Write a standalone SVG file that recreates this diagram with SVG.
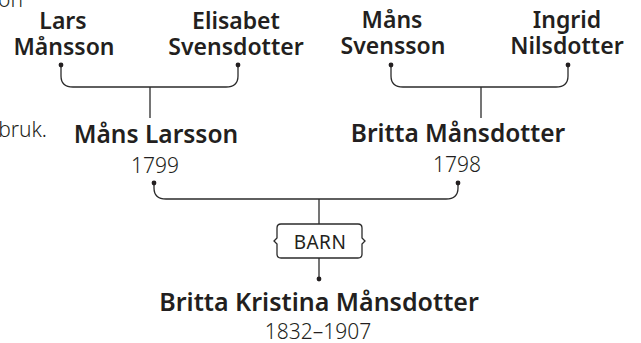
<svg xmlns="http://www.w3.org/2000/svg" width="641" height="343" viewBox="0 0 641 343">
<style>
.bg{fill:#fff}
.name{font-family:"Noto Sans","Liberation Sans",sans-serif;font-weight:600;font-size:23px;fill:#231f20;text-anchor:middle}
.mid{font-size:24.5px}
.big{font-size:25px}
.year{font-family:"Noto Sans","Liberation Sans",sans-serif;font-weight:300;font-size:21px;fill:#231f20;text-anchor:middle}
.label{font-family:"Noto Sans","Liberation Sans",sans-serif;font-weight:400;font-size:19px;fill:#231f20;text-anchor:middle;letter-spacing:0.5px}
.frag{font-family:"Noto Sans","Liberation Sans",sans-serif;font-weight:300;font-size:21px;fill:#231f20;text-anchor:end}
.line{fill:none;stroke:#2b2b2b;stroke-width:1.3}
.dot{fill:#231f20}
</style>
<rect class="bg" x="0" y="0" width="641" height="343"/>
<text class="frag" x="23" y="7">on</text>
<text class="frag" x="47" y="137">bruk.</text>
<g id="connectors">
<path class="line" d="M61 65 V76 Q61 87 73 87 H226 Q238 87 238 76 V65"/>
<path class="line" d="M150 87 V118"/>
<path class="line" d="M391 65 V76 Q391 87 403 87 H556 Q568 87 568 76 V65"/>
<path class="line" d="M481 87 V118"/>
<path class="line" d="M154 183 V188 Q154 199 166 199 H446 Q458 199 458 188 V183"/>
<path class="line" d="M319 199 V224"/>
<path class="line" d="M319 258 V279"/>
<circle class="dot" cx="61" cy="65" r="2.4"/>
<circle class="dot" cx="238" cy="65" r="2.4"/>
<circle class="dot" cx="391" cy="65" r="2.4"/>
<circle class="dot" cx="568" cy="65" r="2.4"/>
<circle class="dot" cx="154" cy="183" r="2.4"/>
<circle class="dot" cx="458" cy="183" r="2.4"/>
<circle class="dot" cx="319" cy="279" r="2.4"/>
</g>
<g id="lars">
<text class="name" x="63" y="29">Lars</text>
<text class="name" x="64" y="55">Månsson</text>
</g>
<g id="elisabet">
<text class="name" x="236" y="29">Elisabet</text>
<text class="name" x="236" y="55">Svensdotter</text>
</g>
<g id="mans-svensson">
<text class="name" x="392" y="28">Måns</text>
<text class="name" x="393" y="54">Svensson</text>
</g>
<g id="ingrid">
<text class="name" x="567" y="28">Ingrid</text>
<text class="name" x="567" y="54">Nilsdotter</text>
</g>
<g id="mans-larsson">
<text class="name mid" x="156" y="143">Måns Larsson</text>
<text class="year" x="155" y="173">1799</text>
</g>
<g id="britta">
<text class="name mid" x="458" y="142">Britta Månsdotter</text>
<text class="year" x="457" y="172">1798</text>
</g>
<g id="barn">
<path class="line" d="M281 224 H358 Q362 224 362 228 V238 L365 241 L362 244 V254 Q362 258 358 258 H281 Q277 258 277 254 V244 L274 241 L277 238 V228 Q277 224 281 224 Z"/>
<text class="label" x="320" y="249">BARN</text>
</g>
<g id="britta-kristina">
<text class="name big" x="319" y="311">Britta Kristina Månsdotter</text>
<text class="year" x="318" y="339">1832–1907</text>
</g>
</svg>
